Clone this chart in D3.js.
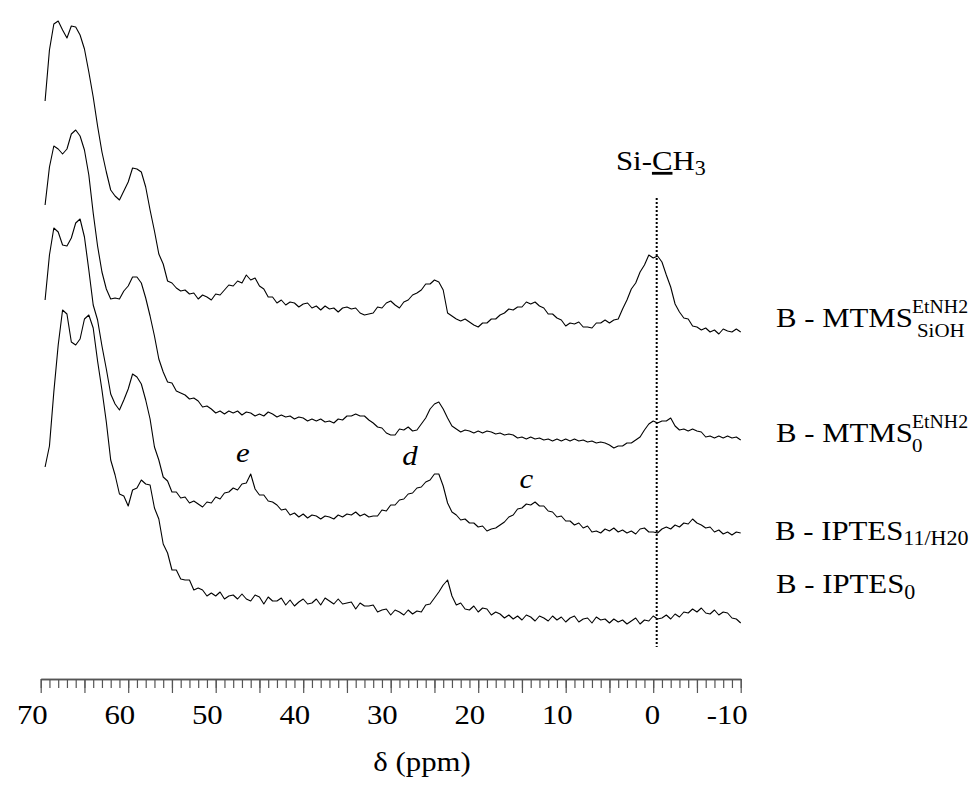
<!DOCTYPE html>
<html>
<head>
<meta charset="utf-8">
<script src="https://cdn.jsdelivr.net/npm/d3@7"></script>
<style>
  body { margin: 0; background: #fff; }
  text { font-family: "Liberation Serif", "Times New Roman", Times, serif; fill: #000; }
</style>
</head>
<body>
<script>
// chemical shift grid (ppm), shared by all spectra
let shifts = [
  69.5, 69, 68.5, 68, 67.5, 67, 66.5, 66, 65.5, 65,
  64.5, 64, 63.5, 63, 62.5, 62, 61.5, 61, 60.5, 60,
  59.5, 59, 58.5, 58, 57.5, 57, 56.5, 56, 55.5, 55,
  54.5, 54, 53.5, 53, 52.5, 52, 51.5, 51, 50.5, 50,
  49.5, 49, 48.5, 48, 47.5, 47, 46.5, 46, 45.5, 45,
  44.5, 44, 43.5, 43, 42.5, 42, 41.5, 41, 40.5, 40,
  39.5, 39, 38.5, 38, 37.5, 37, 36.5, 36, 35.5, 35,
  34.5, 34, 33.5, 33, 32.5, 32, 31.5, 31, 30.5, 30,
  29.5, 29, 28.5, 28, 27.5, 27, 26.5, 26, 25.5, 25,
  24.5, 24, 23.5, 23, 22.5, 22, 21.5, 21, 20.5, 20,
  19.5, 19, 18.5, 18, 17.5, 17, 16.5, 16, 15.5, 15,
  14.5, 14, 13.5, 13, 12.5, 12, 11.5, 11, 10.5, 10,
  9.5, 9, 8.5, 8, 7.5, 7, 6.5, 6, 5.5, 5,
  4.5, 4, 3.5, 3, 2.5, 2, 1.5, 1, 0.5, 0,
  -0.5, -1, -1.5, -2, -2.5, -3, -3.5, -4, -4.5, -5,
  -5.5, -6, -6.5, -7, -7.5, -8, -8.5, -9, -9.5, -10
];

// intensities (a.u.), one array per sample
let mtmsSiOH = [
  229, 280, 306, 309, 300, 292, 304, 303, 295, 281,
  258, 233, 204, 178, 158, 140, 134, 130, 139, 148,
  162, 161, 158, 143, 120, 99, 76, 66, 49, 47,
  42, 39, 40, 36, 37, 31, 35, 33, 30, 36,
  35, 40, 45, 44, 49, 47, 55, 50, 52, 44,
  41, 33, 33, 27, 30, 25, 28, 27, 23, 26,
  27, 22, 24, 20, 24, 21, 22, 18, 22, 23,
  21, 22, 17, 15, 16, 17, 23, 22, 27, 29,
  25, 22, 28, 30, 35, 37, 40, 46, 46, 50,
  48, 40, 17, 14, 11, 9, 11, 8, 5, 3,
  7, 7, 11, 11, 15, 17, 21, 20, 23, 23,
  28, 26, 28, 24, 22, 16, 16, 12, 10, 4,
  7, 6, 8, 3, 3, 2, 7, 7, 10, 7,
  10, 11, 21, 30, 41, 47, 58, 65, 75, 72,
  74, 68, 55, 43, 26, 18, 12, 11, 4, 3,
  0, 2, -2, 0, -4, 1, -1, -2, 1, -2
];

let mtms0 = [
  233, 271, 292, 289, 284, 289, 304, 308, 302, 288,
  263, 225, 192, 166, 149, 139, 140, 139, 147, 152,
  161, 161, 155, 140, 122, 102, 79, 66, 56, 55,
  47, 45, 43, 39, 40, 37, 31, 32, 29, 25,
  27, 24, 27, 25, 27, 23, 26, 25, 22, 24,
  22, 26, 24, 21, 23, 21, 22, 19, 21, 20,
  17, 19, 17, 19, 16, 17, 15, 19, 18, 22,
  22, 24, 22, 22, 18, 15, 11, 10, 5, 3,
  3, 9, 8, 11, 7, 8, 14, 20, 29, 34,
  36, 29, 20, 12, 9, 6, 8, 7, 5, 7,
  5, 7, 6, 4, 5, 3, 4, 3, 0, 1,
  -1, 1, -1, 0, -2, -1, -3, -1, -3, -1,
  -3, -1, -3, -2, -4, -3, -5, -4, -5, -7,
  -10, -8, -8, -5, -5, -2, 1, 8, 14, 17,
  15, 17, 17, 20, 12, 8, 9, 7, 9, 7,
  6, 1, 2, 0, 2, 0, 2, 0, 1, -2
];

let iptesH2O = [
  230, 275, 302, 298, 285, 284, 292, 307, 311, 293,
  260, 225, 210, 184, 161, 136, 126, 120, 130, 141,
  156, 153, 146, 130, 111, 83, 70, 53, 49, 38,
  38, 32, 33, 27, 29, 26, 23, 28, 27, 33,
  31, 37, 38, 42, 40, 46, 47, 56, 41, 35,
  35, 29, 28, 25, 20, 21, 15, 17, 13, 16,
  12, 15, 14, 11, 14, 13, 11, 15, 13, 16,
  15, 18, 14, 16, 13, 14, 14, 20, 19, 25,
  25, 30, 31, 36, 37, 42, 43, 48, 50, 56,
  56, 44, 27, 18, 15, 10, 11, 7, 7, 3,
  4, -1, 1, 2, 5, 8, 13, 15, 21, 22,
  26, 25, 28, 24, 24, 19, 18, 13, 14, 9,
  9, 5, 7, 2, 4, -2, -1, -3, 1, -1,
  2, -2, 0, -3, -1, -4, 1, 2, -2, -2,
  -3, 1, 3, 1, 5, 3, 7, 6, 11, 7,
  5, 2, 3, -2, 0, -4, -2, -5, -2, -3
];

let iptes0 = [
  151, 172, 226, 273, 308, 304, 276, 273, 279, 299,
  303, 290, 257, 228, 196, 158, 143, 124, 122, 112,
  128, 130, 138, 134, 133, 110, 99, 74, 65, 48,
  48, 39, 38, 38, 28, 30, 28, 22, 25, 22,
  26, 19, 22, 23, 19, 24, 19, 17, 23, 21,
  14, 21, 17, 17, 20, 13, 18, 12, 16, 19,
  14, 15, 19, 13, 20, 17, 14, 19, 14, 15,
  16, 9, 15, 12, 12, 13, 6, 8, 9, 3,
  8, 6, 3, 8, 4, 7, 6, 13, 14, 20,
  26, 33, 38, 22, 13, 15, 9, 8, 12, 6,
  10, 9, 3, 6, 4, 0, 3, -1, 2, -2,
  3, 1, -3, 2, 0, -3, 2, -2, 1, -4,
  0, 2, -4, -1, 0, -5, 1, -2, -1, -5,
  -1, -4, -2, -6, -3, 0, -6, -2, -3, 2,
  -1, 0, 3, -1, 4, 1, 6, 5, 9, 6,
  10, 5, 4, 8, 3, 6, 5, 0, -1, -5
];

// stacking offsets of each spectrum (a.u.)
let spectra = [mtmsSiOH, mtms0, iptesH2O, iptes0];
let offsets = [349, 241, 149, 61];

let minorTicks = d3.range(70, -10.5, -1);
let majorTicks = d3.range(70, -10.5, -5);
let tickLabels = [70, 60, 50, 40, 30, 20, 10, 0, -10];

let peakLetters = ["e", "d", "c"];
let peakShifts = [46.9, 27.8, 14.5];

let refShift = -0.4;  // Si-CH3 reference line

// SVG area
let svgWidth = 975;
let svgHeight = 785;
let axisY = 679;

let svg = d3.select("body")
  .append("svg")
  .attr("width", svgWidth)
  .attr("height", svgHeight);

// NMR axis runs right to left
let xScale = d3.scaleLinear().domain([70, -10]).range([40.7, 740.7]);
let yScale = d3.scaleLinear().domain([0, 700]).range([axisY, axisY - 700]);

// stretched serif text, as in the original figure
function addText(x, y, anchor) {
  return svg.append("text")
    .attr("transform", `translate(${x},${y}) scale(1.1,1)`)
    .attr("text-anchor", anchor || "start");
}

// minor ticks every 1 ppm, major every 5 ppm
svg.append("g")
  .attr("transform", `translate(0, ${axisY})`)
  .call(d3.axisBottom(xScale).tickValues(minorTicks).tickSize(9).tickSizeOuter(0).tickFormat(""));

svg.append("g")
  .attr("transform", `translate(0, ${axisY})`)
  .call(d3.axisBottom(xScale).tickValues(majorTicks).tickSize(14).tickSizeOuter(0).tickFormat(""));

svg.selectAll(".domain").attr("stroke", "#555").attr("stroke-width", 1.6);
svg.selectAll(".tick line").attr("stroke", "#555").attr("stroke-width", 1.2);

tickLabels.forEach(v => {
  addText(xScale(v) + 7, 724, "end")
    .style("font-size", "28px")
    .text(v);
});

addText(422, 771, "middle").style("font-size", "28px").text("δ (ppm)");

// spectra
let line = d3.line()
  .x(d => xScale(d[0]));

spectra.forEach((vals, i) => {
  let pts = shifts.map((s, j) => [s, vals[j]]);
  svg.append("path")
    .datum(pts)
    .attr("fill", "none")
    .attr("stroke", "#000")
    .attr("stroke-width", 1.1)
    .attr("stroke-linejoin", "round")
    .attr("d", line.y(d => yScale(d[1] + offsets[i])));
});

// dotted reference line at Si-CH3
svg.append("line")
  .attr("x1", xScale(refShift)).attr("x2", xScale(refShift))
  .attr("y1", 198).attr("y2", 647)
  .attr("stroke", "#000")
  .attr("stroke-width", 2)
  .attr("stroke-dasharray", "2,2");

let siLabel = addText(616, 170).style("font-size", "28px");
siLabel.append("tspan").text("Si-");
siLabel.append("tspan").attr("text-decoration", "underline").text("C");
siLabel.append("tspan").text("H");
siLabel.append("tspan").attr("dy", 5).style("font-size", "20px").text("3");

// peak letters
let letterY = [462, 465, 488];
peakLetters.forEach((t, i) => {
  addText(xScale(peakShifts[i]), letterY[i], "middle")
    .style("font-size", "28px")
    .style("font-style", "italic")
    .text(t);
});

// sample labels
addText(776, 327).style("font-size", "28px").text("B - MTMS");
addText(912, 313).style("font-size", "18px").text("EtNH2");
addText(917, 337).style("font-size", "19px").text("SiOH");

addText(776, 442).style("font-size", "28px").text("B - MTMS");
addText(912, 428).style("font-size", "18px").text("EtNH2");
addText(912, 452).style("font-size", "19px").text("0");

let l3 = addText(775, 540).style("font-size", "28px");
l3.append("tspan").text("B - IPTES");
l3.append("tspan").attr("dy", 5).style("font-size", "20px").text("11/H20");

let l4 = addText(776, 593).style("font-size", "28px");
l4.append("tspan").text("B - IPTES");
l4.append("tspan").attr("dy", 6).style("font-size", "20px").text("0");
</script>
</body>
</html>
